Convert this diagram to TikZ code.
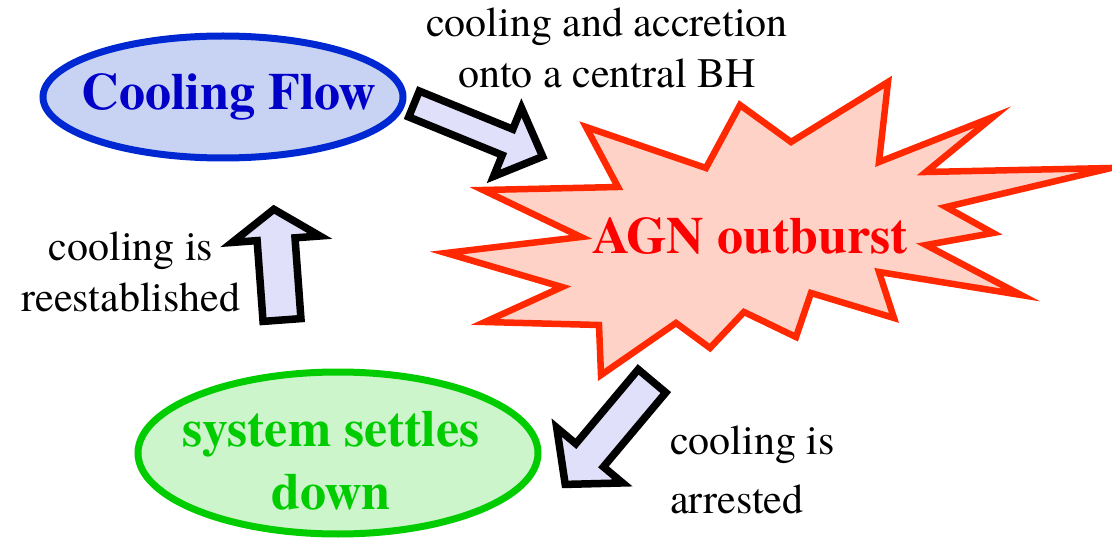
\documentclass[tikz,border=0pt]{standalone}
\usepackage{fontspec}
\setmainfont{texgyretermes}[Extension=.otf, UprightFont=*-regular, BoldFont=*-bold,
  ItalicFont=*-italic, BoldItalicFont=*-bolditalic]
\usetikzlibrary{shapes.geometric, calc}
\definecolor{flowblue}{RGB}{0, 40, 210}
\definecolor{flowfill}{RGB}{200, 210, 242}
\definecolor{flowtext}{RGB}{0, 0, 200}
\definecolor{burstred}{RGB}{255, 40, 0}
\definecolor{burstfill}{RGB}{255, 210, 200}
\definecolor{bursttext}{RGB}{255, 0, 0}
\definecolor{settlegreen}{RGB}{0, 204, 0}
\definecolor{settlefill}{RGB}{204, 245, 204}
\definecolor{arrowfill}{RGB}{224, 224, 250}

\begin{document}
\begin{tikzpicture}[x=1pt, y=-1pt,
  bigtext/.style={font=\fontsize{52}{63}\selectfont\bfseries, inner sep=0pt},
  note/.style={font=\fontsize{42}{51}\selectfont, inner sep=0pt},
  phase/.style={ellipse, line width=7pt, inner sep=0pt},
  blockarrow/.style={draw=black, line width=7.5pt, fill=arrowfill, line join=miter}]
  \useasboundingbox (0,0) rectangle (1112,540);

  % Cycle states
  \node[phase, draw=flowblue, fill=flowfill, minimum width=360pt, minimum height=122pt] (cf) at (223,97) {};
  \node[bigtext, text=flowtext] (cftext) at ($(cf)+(6,0)$) {Cooling Flow};
  \node[phase, draw=settlegreen, fill=settlefill, minimum width=400pt, minimum height=162pt] (ssd) at (338,453) {};
  \node[bigtext, text=settlegreen, align=center] (ssdtext) at ($(ssd)+(-7,8)$) {system settles\\down};

  % Outburst
  \draw[draw=burstred, fill=burstfill, line width=6.5pt, line join=miter]
    (586,127) -- (706,168) -- (740,105) -- (791,142) -- (888,82) -- (879,162)
    -- (993,117) -- (926,172) -- (1111,168) -- (946,207) -- (993,233) -- (926,245)
    -- (1021,295) -- (879,272) -- (894,318) -- (811,293) -- (796,337) -- (744,312)
    -- (710,348) -- (676,323) -- (601,375) -- (599,325) -- (485,322) -- (562,287)
    -- (446,253) -- (581,237) -- (483,190) -- (618,187) -- cycle;
  \node[bigtext, text=bursttext] (agn) at (750,236) {AGN outburst};

  % Block arrows: tail x/y, angle, length, shaft, head, head length
  \foreach \tx/\ty/\ang/\len/\sw/\hw/\hl in {414/104/-22.2/139/14/37/38,
                                               282/320/94.2/111/19/44/30,
                                               652/381/-130/135/18/43/38} {
    \draw[blockarrow, shift={(\tx,\ty)}, rotate=\ang]
      (0,-\sw) -- ({\len-\hl},-\sw) -- ({\len-\hl},-\hw) -- (\len,0)
      -- ({\len-\hl},\hw) -- ({\len-\hl},\sw) -- (0,\sw) -- cycle;
  }

  % Labels
  \node[note, align=center] (accr) at (607,48) {cooling and accretion\\onto a central BH};
  \node[note, align=center] (reest) at (131,272) {cooling is\\reestablished};
  \node[note, align=left, anchor=west] (arrest) at (670,470) {cooling is\\[8pt]arrested};
\end{tikzpicture}
\end{document}
